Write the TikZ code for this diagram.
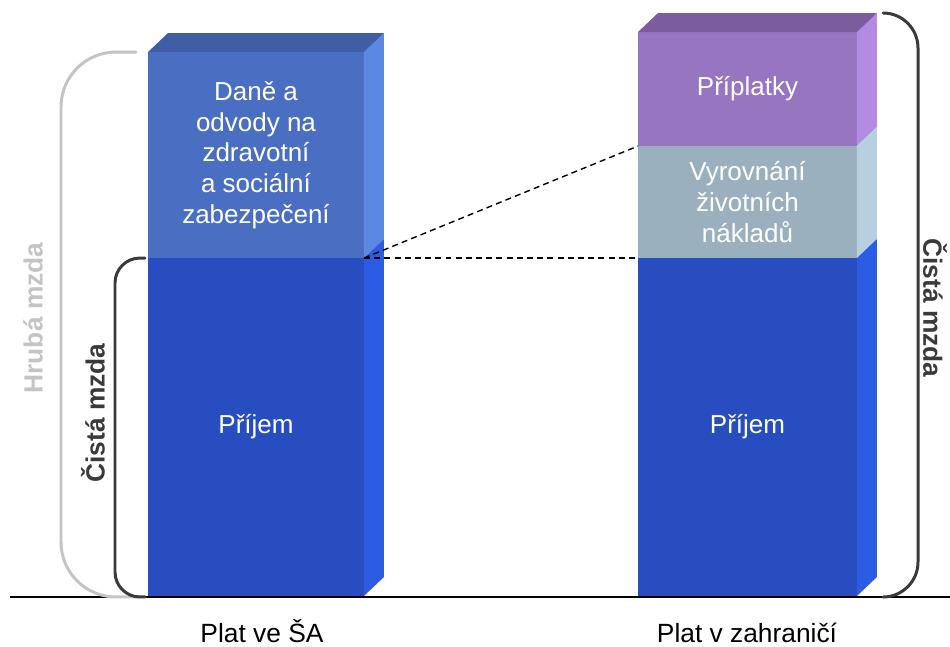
\documentclass[tikz,border=0pt]{standalone}
\usepackage{fontspec}
\setmainfont{Liberation Sans}
\usetikzlibrary{calc}
\definecolor{danfront}{HTML}{4A6FC2}
\definecolor{dantop}{HTML}{3F5EA5}
\definecolor{danside}{HTML}{5B88E2}
\definecolor{prijfront}{HTML}{274DC0}
\definecolor{prijside}{HTML}{2C5CE3}
\definecolor{pripfront}{HTML}{9775C1}
\definecolor{priptop}{HTML}{7B5D9E}
\definecolor{pripside}{HTML}{B38BE3}
\definecolor{vyrfront}{HTML}{9BB0BE}
\definecolor{vyrside}{HTML}{B6D0E0}
\definecolor{hruba}{HTML}{C4C4C4}
\definecolor{cista}{HTML}{3A3A3A}

\begin{document}
\begin{tikzpicture}[x=0.02cm,y=-0.02cm,
  seg/.style={inner sep=0pt,outer sep=0pt,text=white,align=center,font=\fontsize{14.8}{17.5}\selectfont},
  brace/.style={line width=1.7pt,line cap=round},
  lbl/.style={font=\bfseries\fontsize{15}{18}\selectfont},
  plat/.style={inner sep=0pt,anchor=base,font=\fontsize{15}{18}\selectfont},
  guide/.style={line width=0.8pt,dash pattern=on 3.4pt off 2.4pt}]
  \useasboundingbox (0,0) rectangle (950,646);
  \path (256,155) node[seg,fill=danfront,minimum width=4.32cm,minimum height=4.12cm] (dan) {Daně a\\odvody na\\zdravotní\\a sociální\\zabezpečení}
  (256,427) node[seg,fill=prijfront,minimum width=4.32cm,minimum height=6.76cm] (prijL) {Příjem}
  (747.5,89) node[seg,fill=pripfront,minimum width=4.38cm,minimum height=2.28cm] (prip) {Příplatky}
  (747.5,202) node[seg,fill=vyrfront,minimum width=4.38cm,minimum height=2.24cm] (vyr) {Vyrovnání\\životních\\nákladů}
  (747.5,427) node[seg,fill=prijfront,minimum width=4.38cm,minimum height=6.76cm] (prijR) {Příjem};
  % side and top faces
  \foreach \n/\c in {dan/danside,prijL/prijside,prip/pripside,vyr/vyrside,prijR/prijside}
    \fill[\c] (\n.north east) -- ++(20,-19) -- ($(\n.south east)+(20,-19)$) -- (\n.south east) -- cycle;
  \foreach \n/\c in {dan/dantop,prip/priptop}
    \fill[\c] (\n.north west) -- ++(20,-19) -- ($(\n.north east)+(20,-19)$) -- (\n.north east) -- cycle;
  \draw[line width=0.8pt] (10,597) -- (950,597);
  \draw[guide] (prijL.north east) -- (prijR.north west);
  \draw[guide] (prijL.north east) -- (vyr.north west);
  % brackets
  \draw[brace,hruba,rounded corners=1.1cm] ($(dan.north west)+(-12,0)$) -- (61,52) -- (61,597) -- ($(prijL.south west)+(-8,1)$);
  \draw[brace,cista,rounded corners=0.5cm] ($(prijL.north west)+(-3,0)$) -- (115,258) -- (115,597) -- ($(prijL.south west)+(-3,1)$);
  \draw[brace,cista,rounded corners=0.7cm] (883,13) -- (918,13) -- (918,597) -- (883,597);
  \node[lbl,text=hruba,rotate=90] (hrubalbl) at (33,318) {Hrubá mzda};
  \node[lbl,text=cista,rotate=90] (cistaL) at (93,413) {Čistá mzda};
  \node[lbl,text=cista,rotate=-90] (cistaR) at (935,308) {Čistá mzda};
  \node[plat] (platL) at (262,642) {Plat ve ŠA};
  \node[plat] (platR) at (747,642) {Plat v zahraničí};
\end{tikzpicture}
\end{document}
